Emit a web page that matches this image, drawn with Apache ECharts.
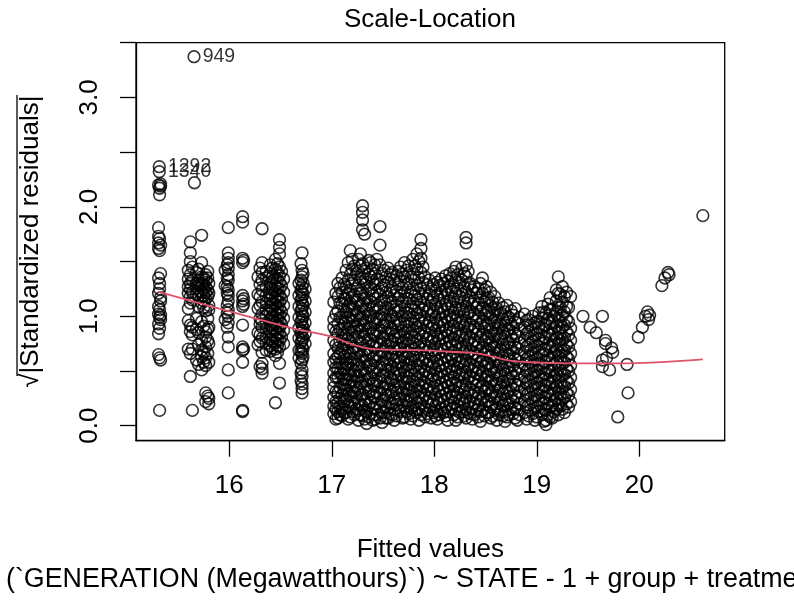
<!DOCTYPE html>
<html>
<head>
<meta charset="utf-8">
<title>Scale-Location</title>
<script src="https://cdn.jsdelivr.net/npm/echarts@6/dist/echarts.min.js"></script>
<style>
  html, body { margin: 0; padding: 0; background: #fff; }
  #chart { width: 794px; height: 606px; }
</style>
</head>
<body>
<div id="chart"></div>
<script>
const FONT = '"Liberation Sans", Arial, Helvetica, sans-serif';

// Axis ticks
const xTicks = [16, 17, 18, 19, 20];
const yTicks = [0, 0.5, 1, 1.5, 2, 2.5, 3, 3.5];
const yLabelled = [0, 1, 2, 3];

// Fitted value -> sqrt(|standardized residual|), grouped by fitted value (low-fit strips)
const stripCols = [
  [15.31, [2.20, 1.81, 1.73, 1.67, 1.62, 1.35, 1.21, 1.09, 1.02, 0.93, 0.84, 0.65]],
  [15.32, [2.17, 2.11, 1.71, 1.60, 1.30, 1.25, 1.06, 0.99, 0.89, 0.62, 0.14]],
  [15.33, [2.21, 2.19, 1.65, 1.39, 1.17, 1.14, 1.01, 0.97, 0.60]],
  [15.60, [1.42, 1.34, 1.27, 1.21, 1.07, 0.96, 0.70]],
  [15.62, [1.68, 1.58, 1.50, 1.38, 1.30, 1.25, 1.18, 1.12, 0.92, 0.86, 0.66, 0.45]],
  [15.64, [1.45, 1.33, 1.22, 1.15, 0.90, 0.83, 0.70, 0.14]],
  [15.66, [2.22]],
  [15.68, [1.40, 1.30, 1.26, 1.20, 0.98, 0.88, 0.60]],
  [15.70, [1.43, 1.33, 1.28, 1.18, 1.09, 0.85, 0.74, 0.56]],
  [15.73, [1.74, 1.49, 1.36, 1.30, 1.22, 1.12, 0.95, 0.78, 0.69, 0.63, 0.51]],
  [15.75, [1.35, 1.29, 1.25, 1.19, 1.14, 1.08, 0.91, 0.67, 0.58]],
  [15.77, [1.38, 1.33, 1.27, 1.22, 1.16, 1.05, 0.86, 0.81, 0.72, 0.62, 0.55, 0.30, 0.22]],
  [15.79, [1.41, 1.35, 1.24, 1.18, 0.98, 0.88, 0.78, 0.66, 0.27]],
  [15.80, [1.30, 1.21, 1.10, 1.06, 0.90, 0.75, 0.58, 0.25, 0.20]],
  [15.96, [1.42, 1.28, 0.97]],
  [15.98, [1.47, 1.35, 1.27, 1.21, 1.10, 1.03, 0.90]],
  [15.99, [1.81, 1.58, 1.53, 1.49, 1.44, 1.38, 1.33, 1.24, 1.19, 1.14, 1.06, 1.00, 0.94, 0.81, 0.72, 0.51, 0.30]],
  [16.13, [1.91, 1.86, 1.53, 1.49, 1.19, 1.14, 1.09, 0.92, 0.72, 0.69, 0.58, 0.14, 0.13]],
  [16.14, [1.51, 1.16, 1.11, 0.70]],
  [16.28, [1.36, 1.20, 1.07, 0.85, 0.74]],
  [16.30, [1.44, 1.29, 1.18, 1.10, 0.98, 0.93, 0.83, 0.77, 0.54]],
  [16.32, [1.80, 1.49, 1.40, 1.33, 1.24, 1.13, 1.02, 0.96, 0.90, 0.80, 0.67, 0.57, 0.52, 0.48]],
  [16.36, [1.41, 1.35, 1.27, 1.19, 1.12, 1.06, 1.00, 0.94, 0.88, 0.81, 0.75, 0.69]],
  [16.40, [1.47, 1.39, 1.30, 1.26, 1.21, 1.15, 1.09, 1.03, 0.97, 0.92, 0.86, 0.79, 0.73, 0.68]],
  [16.42, [1.44, 1.36, 1.32, 1.24, 1.18, 1.12, 1.06, 1.00, 0.95, 0.89, 0.83, 0.77, 0.71]],
  [16.45, [1.52, 1.43, 1.35, 1.28, 1.23, 1.17, 1.11, 1.05, 0.99, 0.94, 0.88, 0.82, 0.76, 0.70, 0.64, 0.21]],
  [16.47, [1.48, 1.40, 1.33, 1.26, 1.20, 1.14, 1.08, 1.02, 0.97, 0.91, 0.85, 0.79, 0.73, 0.67]],
  [16.49, [1.70, 1.63, 1.57, 1.45, 1.37, 1.31, 1.25, 1.19, 1.13, 1.07, 1.01, 0.96, 0.90, 0.84, 0.78, 0.72, 0.57, 0.39]],
  [16.51, [1.41, 1.28, 1.16, 1.04, 0.93, 0.81]],
  [16.53, [1.34, 1.22, 1.10, 0.98, 0.87, 0.75]],
  [16.68, [1.30, 1.19, 1.09, 0.99, 0.89, 0.80, 0.69, 0.62]],
  [16.70, [1.48, 1.33, 1.24, 1.15, 1.05, 0.95, 0.85, 0.76, 0.68, 0.57, 0.48, 0.41]],
  [16.71, [1.58, 1.42, 1.36, 1.27, 1.22, 1.17, 1.12, 1.07, 1.02, 0.97, 0.92, 0.87, 0.82, 0.78, 0.72, 0.66, 0.60, 0.51, 0.45, 0.38, 0.34, 0.30]],
  [16.72, [1.39, 1.30, 1.20, 1.10, 1.00, 0.90, 0.80, 0.70, 0.63]],
  [16.74, [1.25, 1.14, 1.04, 0.94, 0.84, 0.75]]
];

// Main body of observations, fitted values 17 to 19.35
const cloudCols = [
  [17.02, [1.13, 0.97, 0.90, 0.78, 0.66, 0.58, 0.48, 0.41, 0.35, 0.26, 0.18, 0.11]],
  [17.04, [1.21, 1.02, 0.86, 0.74, 0.61, 0.53, 0.44, 0.31, 0.22, 0.15, 0.06]],
  [17.06, [1.30, 1.18, 1.05, 0.93, 0.84, 0.71, 0.63, 0.52, 0.44, 0.30, 0.21, 0.13, 0.07]],
  [17.08, [1.26, 1.12, 0.99, 0.88, 0.77, 0.66, 0.57, 0.48, 0.35, 0.25, 0.17, 0.10]],
  [17.10, [1.35, 1.22, 1.11, 0.99, 0.88, 0.80, 0.69, 0.57, 0.47, 0.38, 0.28, 0.16, 0.09]],
  [17.12, [1.29, 1.16, 1.05, 0.93, 0.83, 0.74, 0.63, 0.51, 0.42, 0.33, 0.22, 0.12]],
  [17.14, [1.42, 1.27, 1.16, 1.04, 0.95, 0.83, 0.74, 0.61, 0.53, 0.42, 0.33, 0.24, 0.12]],
  [17.16, [1.49, 1.33, 1.21, 1.09, 0.99, 0.88, 0.79, 0.67, 0.56, 0.47, 0.37, 0.29, 0.18, 0.06]],
  [17.18, [1.60, 1.38, 1.24, 1.12, 1.01, 0.90, 0.77, 0.66, 0.58, 0.46, 0.36, 0.27, 0.17, 0.08]],
  [17.20, [1.52, 1.43, 1.30, 1.17, 1.06, 0.95, 0.83, 0.71, 0.61, 0.52, 0.41, 0.31, 0.22, 0.13]],
  [17.22, [1.46, 1.33, 1.19, 1.07, 0.96, 0.86, 0.72, 0.62, 0.50, 0.40, 0.31, 0.20, 0.10]],
  [17.24, [1.39, 1.25, 1.13, 1.01, 0.90, 0.78, 0.67, 0.56, 0.45, 0.36, 0.26, 0.15]],
  [17.26, [1.52, 1.41, 1.28, 1.15, 1.03, 0.92, 0.81, 0.69, 0.56, 0.45, 0.34, 0.22, 0.14, 0.05]],
  [17.28, [1.57, 1.46, 1.34, 1.21, 1.09, 0.97, 0.86, 0.75, 0.63, 0.50, 0.39, 0.28, 0.19, 0.10]],
  [17.30, [2.01, 1.95, 1.88, 1.79, 1.48, 1.35, 1.22, 1.10, 0.98, 0.87, 0.75, 0.64, 0.52, 0.41, 0.29, 0.18, 0.09]],
  [17.32, [1.75, 1.41, 1.29, 1.16, 1.04, 0.92, 0.81, 0.69, 0.58, 0.46, 0.35, 0.23, 0.14, 0.06]],
  [17.34, [1.44, 1.31, 1.17, 1.06, 0.94, 0.83, 0.70, 0.60, 0.48, 0.37, 0.25, 0.13, 0.02]],
  [17.36, [1.51, 1.38, 1.24, 1.11, 1.00, 0.88, 0.76, 0.65, 0.54, 0.42, 0.31, 0.19, 0.08]],
  [17.38, [1.49, 1.36, 1.25, 1.13, 1.00, 0.89, 0.78, 0.67, 0.55, 0.43, 0.32, 0.21, 0.11]],
  [17.40, [1.43, 1.31, 1.19, 1.07, 0.95, 0.84, 0.73, 0.61, 0.49, 0.38, 0.27, 0.16, 0.05]],
  [17.42, [1.47, 1.39, 1.29, 1.16, 1.04, 0.93, 0.82, 0.71, 0.59, 0.47, 0.36, 0.26, 0.15, 0.06]],
  [17.44, [1.52, 1.34, 1.22, 1.10, 0.98, 0.87, 0.76, 0.65, 0.53, 0.41, 0.31, 0.20, 0.10]],
  [17.47, [1.82, 1.65, 1.47, 1.33, 1.20, 1.08, 0.97, 0.85, 0.74, 0.63, 0.51, 0.40, 0.29, 0.17, 0.07]],
  [17.49, [1.39, 1.26, 1.14, 1.02, 0.91, 0.80, 0.68, 0.57, 0.46, 0.35, 0.23, 0.12, 0.03]],
  [17.51, [1.42, 1.28, 1.14, 1.02, 0.91, 0.79, 0.68, 0.56, 0.45, 0.34, 0.23, 0.12]],
  [17.53, [1.36, 1.22, 1.08, 0.96, 0.85, 0.73, 0.62, 0.51, 0.39, 0.28, 0.18, 0.07]],
  [17.55, [1.44, 1.31, 1.18, 1.07, 0.95, 0.84, 0.73, 0.61, 0.50, 0.38, 0.27, 0.16, 0.07]],
  [17.57, [1.38, 1.24, 1.12, 1.01, 0.89, 0.78, 0.67, 0.56, 0.44, 0.33, 0.21, 0.11]],
  [17.59, [1.40, 1.26, 1.13, 1.00, 0.88, 0.77, 0.65, 0.54, 0.42, 0.31, 0.20, 0.10]],
  [17.61, [1.33, 1.19, 1.06, 0.94, 0.82, 0.71, 0.60, 0.48, 0.37, 0.25, 0.15, 0.05]],
  [17.63, [1.37, 1.23, 1.10, 0.98, 0.86, 0.75, 0.63, 0.52, 0.41, 0.30, 0.19, 0.09]],
  [17.65, [1.41, 1.29, 1.16, 1.04, 0.92, 0.80, 0.69, 0.57, 0.46, 0.35, 0.24, 0.14]],
  [17.67, [1.45, 1.32, 1.19, 1.05, 0.93, 0.81, 0.70, 0.58, 0.47, 0.35, 0.24, 0.13]],
  [17.69, [1.39, 1.26, 1.13, 1.00, 0.87, 0.76, 0.64, 0.53, 0.41, 0.30, 0.19, 0.07]],
  [17.71, [1.49, 1.36, 1.22, 1.09, 0.97, 0.85, 0.73, 0.62, 0.50, 0.39, 0.28, 0.17, 0.08]],
  [17.73, [1.42, 1.29, 1.16, 1.03, 0.91, 0.79, 0.68, 0.56, 0.45, 0.34, 0.23, 0.13]],
  [17.75, [1.46, 1.30, 1.16, 1.03, 0.91, 0.79, 0.67, 0.56, 0.44, 0.33, 0.22, 0.11]],
  [17.77, [1.36, 1.22, 1.09, 0.97, 0.85, 0.73, 0.61, 0.50, 0.38, 0.27, 0.16, 0.06]],
  [17.79, [1.52, 1.39, 1.25, 1.12, 0.99, 0.87, 0.76, 0.64, 0.53, 0.41, 0.30, 0.18, 0.09]],
  [17.81, [1.46, 1.33, 1.19, 1.06, 0.93, 0.81, 0.70, 0.59, 0.47, 0.36, 0.25, 0.14]],
  [17.83, [1.57, 1.43, 1.28, 1.15, 1.02, 0.90, 0.78, 0.66, 0.55, 0.43, 0.32, 0.21, 0.12]],
  [17.85, [1.50, 1.35, 1.21, 1.08, 0.96, 0.84, 0.72, 0.60, 0.49, 0.37, 0.26, 0.15, 0.05]],
  [17.87, [1.70, 1.62, 1.53, 1.40, 1.26, 1.13, 1.01, 0.89, 0.77, 0.65, 0.54, 0.42, 0.31, 0.20, 0.10]],
  [17.89, [1.45, 1.31, 1.18, 1.06, 0.94, 0.82, 0.70, 0.59, 0.47, 0.36, 0.25, 0.14]],
  [17.91, [1.36, 1.23, 1.10, 0.97, 0.85, 0.73, 0.62, 0.50, 0.39, 0.28, 0.16, 0.08]],
  [17.93, [1.29, 1.16, 1.04, 0.91, 0.79, 0.67, 0.56, 0.44, 0.33, 0.22, 0.11]],
  [17.95, [1.33, 1.20, 1.07, 0.95, 0.83, 0.71, 0.59, 0.48, 0.36, 0.25, 0.14]],
  [17.97, [1.25, 1.13, 1.01, 0.89, 0.77, 0.65, 0.53, 0.42, 0.30, 0.19, 0.07]],
  [17.99, [1.29, 1.17, 1.05, 0.93, 0.81, 0.69, 0.58, 0.46, 0.35, 0.23, 0.12]],
  [18.01, [1.35, 1.23, 1.11, 0.99, 0.87, 0.75, 0.64, 0.52, 0.41, 0.29, 0.18, 0.09]],
  [18.03, [1.31, 1.19, 1.07, 0.94, 0.82, 0.70, 0.59, 0.47, 0.36, 0.24, 0.13, 0.06]],
  [18.05, [1.28, 1.15, 1.03, 0.91, 0.79, 0.67, 0.55, 0.44, 0.32, 0.21, 0.10]],
  [18.07, [1.34, 1.22, 1.09, 0.97, 0.85, 0.73, 0.61, 0.50, 0.38, 0.27, 0.15]],
  [18.09, [1.30, 1.17, 1.04, 0.92, 0.80, 0.68, 0.57, 0.45, 0.34, 0.22, 0.12]],
  [18.11, [1.37, 1.24, 1.11, 0.99, 0.87, 0.75, 0.63, 0.52, 0.40, 0.29, 0.17, 0.09]],
  [18.13, [1.32, 1.20, 1.07, 0.95, 0.82, 0.71, 0.59, 0.47, 0.36, 0.25, 0.13, 0.05]],
  [18.15, [1.39, 1.27, 1.14, 1.01, 0.89, 0.77, 0.65, 0.54, 0.42, 0.31, 0.19]],
  [18.17, [1.35, 1.22, 1.09, 0.97, 0.85, 0.73, 0.61, 0.49, 0.38, 0.26, 0.15]],
  [18.19, [1.41, 1.28, 1.16, 1.03, 0.91, 0.79, 0.67, 0.55, 0.44, 0.32, 0.21, 0.10]],
  [18.21, [1.45, 1.33, 1.21, 1.08, 0.96, 0.84, 0.72, 0.60, 0.49, 0.37, 0.26, 0.14, 0.05]],
  [18.23, [1.38, 1.25, 1.13, 1.00, 0.88, 0.76, 0.64, 0.53, 0.41, 0.30, 0.18, 0.08]],
  [18.25, [1.31, 1.18, 1.06, 0.94, 0.82, 0.70, 0.58, 0.47, 0.35, 0.24, 0.12]],
  [18.27, [1.44, 1.33, 1.20, 1.07, 0.95, 0.83, 0.71, 0.59, 0.47, 0.36, 0.24, 0.13]],
  [18.29, [1.39, 1.27, 1.14, 1.02, 0.90, 0.78, 0.66, 0.54, 0.43, 0.31, 0.20, 0.09]],
  [18.31, [1.72, 1.67, 1.47, 1.36, 1.22, 1.09, 0.96, 0.84, 0.72, 0.60, 0.49, 0.37, 0.26, 0.15, 0.07]],
  [18.33, [1.41, 1.29, 1.15, 1.03, 0.90, 0.78, 0.66, 0.54, 0.43, 0.31, 0.20, 0.12]],
  [18.35, [1.30, 1.17, 1.04, 0.92, 0.80, 0.68, 0.56, 0.45, 0.33, 0.22, 0.11]],
  [18.37, [1.24, 1.11, 0.98, 0.86, 0.74, 0.62, 0.50, 0.39, 0.27, 0.16, 0.06]],
  [18.39, [1.27, 1.14, 1.02, 0.90, 0.78, 0.66, 0.54, 0.43, 0.31, 0.20, 0.10]],
  [18.41, [1.21, 1.08, 0.96, 0.84, 0.72, 0.60, 0.48, 0.37, 0.25, 0.14]],
  [18.43, [1.25, 1.12, 1.00, 0.88, 0.76, 0.64, 0.53, 0.41, 0.30, 0.19, 0.08]],
  [18.45, [1.30, 1.17, 1.05, 0.93, 0.81, 0.69, 0.58, 0.46, 0.35, 0.24, 0.13, 0.04]],
  [18.47, [1.35, 1.21, 1.08, 0.96, 0.84, 0.72, 0.60, 0.49, 0.37, 0.26, 0.14]],
  [18.49, [1.24, 1.13, 1.01, 0.89, 0.77, 0.65, 0.54, 0.42, 0.31, 0.19, 0.09]],
  [18.51, [1.27, 1.16, 1.04, 0.92, 0.80, 0.68, 0.57, 0.45, 0.34, 0.22, 0.12]],
  [18.53, [1.17, 1.05, 0.93, 0.81, 0.69, 0.57, 0.46, 0.34, 0.23, 0.12]],
  [18.55, [1.22, 1.10, 0.98, 0.86, 0.74, 0.63, 0.51, 0.40, 0.28, 0.17, 0.07]],
  [18.57, [1.13, 1.01, 0.89, 0.77, 0.65, 0.54, 0.42, 0.31, 0.20, 0.09]],
  [18.59, [1.18, 1.06, 0.94, 0.82, 0.71, 0.59, 0.48, 0.36, 0.25, 0.14]],
  [18.61, [1.07, 0.95, 0.84, 0.72, 0.61, 0.49, 0.38, 0.27, 0.16, 0.05]],
  [18.63, [1.12, 1.01, 0.89, 0.78, 0.66, 0.55, 0.43, 0.32, 0.21, 0.10]],
  [18.65, [1.03, 0.92, 0.80, 0.69, 0.57, 0.46, 0.35, 0.24, 0.13]],
  [18.67, [1.08, 0.97, 0.85, 0.74, 0.62, 0.51, 0.40, 0.29, 0.18, 0.09]],
  [18.69, [1.04, 0.92, 0.81, 0.69, 0.58, 0.47, 0.35, 0.24, 0.13, 0.04]],
  [18.71, [1.10, 0.98, 0.87, 0.75, 0.64, 0.53, 0.41, 0.30, 0.19, 0.08]],
  [18.73, [0.99, 0.88, 0.76, 0.65, 0.54, 0.43, 0.32, 0.21, 0.10]],
  [18.75, [1.05, 0.93, 0.82, 0.71, 0.59, 0.48, 0.37, 0.26, 0.15]],
  [18.77, [1.01, 0.89, 0.78, 0.66, 0.55, 0.44, 0.33, 0.22, 0.11]],
  [18.79, [1.07, 0.95, 0.84, 0.72, 0.61, 0.50, 0.38, 0.27, 0.16, 0.07]],
  [18.81, [0.94, 0.82, 0.71, 0.60, 0.48, 0.37, 0.26, 0.15, 0.05]],
  [18.83, [0.99, 0.88, 0.76, 0.65, 0.54, 0.42, 0.31, 0.20, 0.10]],
  [18.88, [1.02, 0.90, 0.78, 0.67, 0.56, 0.45, 0.34, 0.23, 0.12]],
  [18.90, [0.96, 0.84, 0.72, 0.61, 0.50, 0.39, 0.28, 0.17, 0.06]],
  [18.92, [0.97, 0.86, 0.74, 0.63, 0.52, 0.41, 0.30, 0.19, 0.09]],
  [18.94, [0.92, 0.80, 0.69, 0.58, 0.47, 0.36, 0.25, 0.14]],
  [18.96, [1.00, 0.88, 0.77, 0.66, 0.55, 0.44, 0.33, 0.22, 0.11]],
  [18.98, [0.94, 0.83, 0.72, 0.60, 0.49, 0.38, 0.27, 0.16, 0.05]],
  [19.00, [0.95, 0.84, 0.73, 0.61, 0.50, 0.39, 0.28, 0.17, 0.08]],
  [19.02, [1.03, 0.90, 0.79, 0.67, 0.56, 0.45, 0.34, 0.23, 0.13]],
  [19.05, [1.09, 0.98, 0.86, 0.75, 0.64, 0.53, 0.42, 0.31, 0.20, 0.10]],
  [19.07, [1.04, 0.92, 0.81, 0.70, 0.59, 0.48, 0.37, 0.26, 0.15, 0.04]],
  [19.09, [1.03, 0.92, 0.80, 0.69, 0.58, 0.47, 0.36, 0.25, 0.14, 0.05, 0.01]],
  [19.11, [1.11, 0.98, 0.86, 0.75, 0.64, 0.53, 0.42, 0.31, 0.20, 0.10]],
  [19.13, [1.17, 1.06, 0.94, 0.83, 0.72, 0.61, 0.50, 0.39, 0.28, 0.17, 0.08]],
  [19.15, [1.06, 0.95, 0.84, 0.73, 0.62, 0.51, 0.40, 0.29, 0.18, 0.07]],
  [19.17, [1.00, 0.89, 0.78, 0.67, 0.56, 0.45, 0.34, 0.23, 0.13]],
  [19.19, [1.24, 1.14, 1.02, 0.91, 0.80, 0.69, 0.58, 0.47, 0.36, 0.25, 0.15]],
  [19.21, [1.36, 1.21, 1.08, 0.96, 0.85, 0.74, 0.63, 0.52, 0.41, 0.30, 0.19, 0.10]],
  [19.23, [1.20, 1.08, 0.96, 0.85, 0.74, 0.62, 0.51, 0.40, 0.29, 0.18]],
  [19.25, [1.27, 1.13, 1.01, 0.90, 0.79, 0.68, 0.57, 0.46, 0.35, 0.24, 0.15]],
  [19.27, [1.18, 1.04, 0.92, 0.80, 0.69, 0.58, 0.47, 0.36, 0.26, 0.12]],
  [19.29, [1.22, 1.09, 0.97, 0.86, 0.74, 0.63, 0.52, 0.41, 0.30, 0.20]],
  [19.31, [1.08, 0.95, 0.83, 0.72, 0.61, 0.50, 0.39, 0.28, 0.17]],
  [19.33, [1.18, 0.89, 0.78, 0.66, 0.55, 0.44, 0.33, 0.22]]
];

// Sparse observations at the high end of the fitted range
const sparsePoints = [
  [19.45, 1.00], [19.52, 0.90], [19.58, 0.85], [19.64, 1.00], [19.67, 0.78], [19.67, 0.75],
  [19.73, 0.71], [19.74, 0.67], [19.64, 0.60], [19.68, 0.62], [19.64, 0.54], [19.71, 0.51],
  [19.88, 0.56], [19.89, 0.30], [19.79, 0.08],
  [19.99, 0.81], [20.03, 0.90], [20.06, 1.00], [20.08, 1.04], [20.09, 0.97], [20.10, 1.01],
  [20.22, 1.28], [20.25, 1.35], [20.28, 1.40], [20.29, 1.38],
  [20.62, 1.92]
];

// Observations identified by row number
const idNames = ['949', '1292', '1340'];
const idX = [15.656, 15.317, 15.317];
const idY = [3.372, 2.367, 2.321];

// Smoothed trend
const smoothX = [15.31, 16.01, 16.62, 17.01, 17.21, 17.40, 17.86, 18.15, 18.35, 18.51, 18.71, 18.93, 19.32, 19.81, 20.62];
const smoothY = [1.224, 1.042, 0.89, 0.81, 0.74, 0.70, 0.69, 0.676, 0.667, 0.646, 0.60, 0.58, 0.57, 0.57, 0.607];

const points = [];
stripCols.concat(cloudCols).forEach(([x, ys]) => ys.forEach(y => points.push([x, y])));
sparsePoints.forEach(p => points.push(p));
const idPoints = idNames.map((n, i) => ({ name: n, value: [idX[i], idY[i]] }));
const smoothLine = smoothX.map((x, i) => [x, smoothY[i]]);

const ringStyle = { color: 'rgba(0,0,0,0)', borderColor: '#000', borderWidth: 1.6 };

const chart = echarts.init(document.getElementById('chart'), null, { renderer: 'canvas' });
chart.setOption({
  animation: false,
  backgroundColor: '#fff',
  textStyle: { fontFamily: FONT },
  grid: {
    left: 136, top: 42.7, right: 69.3, bottom: 165.3,
    show: true, borderColor: '#000', borderWidth: 1.3, backgroundColor: 'transparent'
  },
  xAxis: {
    type: 'value', min: 15.09, max: 20.833,
    splitLine: { show: false },
    axisLine: { show: true, onZero: false, lineStyle: { color: '#000', width: 1.3 } },
    axisTick: { show: true, length: 16, customValues: xTicks, lineStyle: { color: '#000', width: 1.3 } },
    axisLabel: { customValues: xTicks, fontSize: 26, color: '#000', margin: 32, fontFamily: FONT },
    name: 'Fitted values', nameLocation: 'middle', nameGap: 96,
    nameTextStyle: { fontSize: 26, color: '#000', fontFamily: FONT }
  },
  yAxis: {
    type: 'value', min: -0.137, max: 3.5,
    splitLine: { show: false },
    axisLine: { show: true, onZero: false, lineStyle: { color: '#000', width: 1.3 } },
    axisTick: { show: true, length: 16, customValues: yTicks, lineStyle: { color: '#000', width: 1.3 } },
    axisLabel: {
      customValues: yLabelled, rotate: 90, fontSize: 26, color: '#000', margin: 33, fontFamily: FONT,
      formatter: v => v.toFixed(1)
    },
    name: '√|Standardized residuals|', nameLocation: 'middle', nameGap: 92, nameRotate: 90,
    nameTextStyle: { fontSize: 26, color: '#000', fontFamily: FONT }
  },
  graphic: [
    {
      type: 'text', x: 430, y: 20,
      style: { text: 'Scale-Location', font: '26px ' + FONT, fill: '#000', textAlign: 'center', textVerticalAlign: 'middle' }
    },
    {
      // bar over the radicand of the axis title
      type: 'line', shape: { x1: 17, y1: 95, x2: 17, y2: 376 },
      style: { stroke: '#000', lineWidth: 1.3 }
    },
    {
      type: 'text', x: 6, y: 580,
      style: { text: '(`GENERATION (Megawatthours)`) ~ STATE - 1 + group + treatment', font: '26.8px ' + FONT, fill: '#000', textAlign: 'left', textVerticalAlign: 'middle' }
    }
  ],
  series: [
    {
      type: 'scatter', data: points, symbol: 'circle', symbolSize: 11.7,
      itemStyle: ringStyle, emphasis: { disabled: true }, z: 2, large: false
    },
    {
      type: 'scatter', data: idPoints, symbol: 'circle', symbolSize: 11.7,
      itemStyle: ringStyle, emphasis: { disabled: true }, z: 2,
      label: {
        show: true, position: 'right', distance: 2, formatter: p => p.name,
        fontSize: 19.5, color: '#000', fontFamily: FONT
      }
    },
    {
      type: 'line', data: smoothLine, smooth: 0.35, showSymbol: false,
      lineStyle: { color: '#DF536B', width: 1.8 }, z: 3, emphasis: { disabled: true }
    }
  ]
});
</script>
</body>
</html>
